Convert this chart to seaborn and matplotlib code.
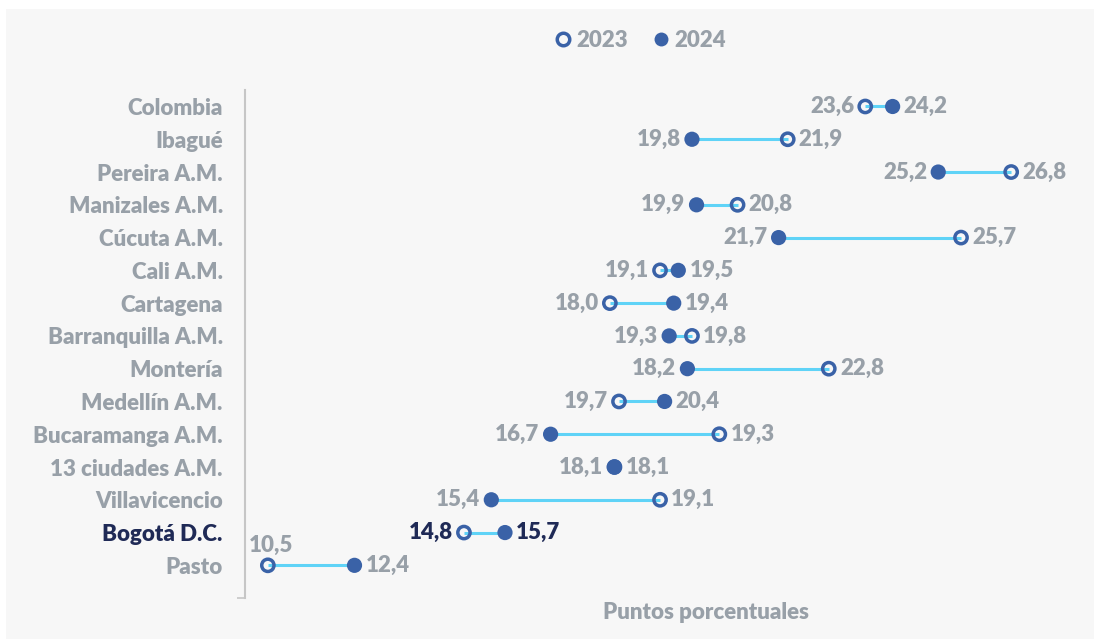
"""Dumbbell chart: 2023 vs 2024 by city"""

import numpy as np
import pandas as pd
import matplotlib
matplotlib.use('Agg')
import matplotlib.pyplot as plt
import seaborn as sns

cities = ['Colombia', 'Ibagué', 'Pereira A.M.', 'Manizales A.M.', 'Cúcuta A.M.',
          'Cali A.M.', 'Cartagena', 'Barranquilla A.M.', 'Montería', 'Medellín A.M.',
          'Bucaramanga A.M.', '13 ciudades A.M.', 'Villavicencio', 'Bogotá D.C.', 'Pasto']
# where the marks sit in the picture
val_2023 = [23.6, 21.9, 26.8, 20.8, 25.7, 19.1, 18.0, 19.8, 22.8, 18.2, 20.4, 18.1, 19.1, 14.8, 10.5]
val_2024 = [24.2, 19.8, 25.2, 19.9, 21.7, 19.5, 19.4, 19.3, 19.7, 19.2, 16.7, 18.1, 15.4, 15.7, 12.4]
# the numbers printed next to the marks
lab_2023 = [23.6, 21.9, 26.8, 20.8, 25.7, 19.1, 18.0, 19.8, 22.8, 19.7, 19.3, 18.1, 19.1, 14.8, 10.5]
lab_2024 = [24.2, 19.8, 25.2, 19.9, 21.7, 19.5, 19.4, 19.3, 18.2, 20.4, 16.7, 18.1, 15.4, 15.7, 12.4]
highlight = 'Bogotá D.C.'

BG = '#f7f7f7'
BLUE = '#3a62a7'
CYAN = '#5fd3f7'
GREY = '#98a0a8'
NAVY = '#1f2a56'
FW = 'heavy'

sns.set_theme(style='white')
plt.rcParams['font.family'] = ['Lato', 'DejaVu Sans']

df = pd.DataFrame({'city': cities, 'y2023': val_2023, 'y2024': val_2024,
                   'l2023': lab_2023, 'l2024': lab_2024})
df['pos'] = np.arange(len(df))

fig = plt.figure(figsize=(10.94, 6.39), dpi=100, facecolor='white')
fig.patches.append(plt.Rectangle((6 / 1094, 0), 1, 1 - 9 / 639, transform=fig.transFigure,
                                 facecolor=BG, edgecolor='none', zorder=-10))
ax = fig.add_axes([0.224, 0.064, 0.767, 0.795])
ax.set_facecolor('none')

# connecting lines
ax.hlines(df['pos'], df['y2023'], df['y2024'], color=CYAN, linewidth=2.2, zorder=1)

sns.scatterplot(data=df, x='y2024', y='pos', ax=ax, color=BLUE, s=120,
                edgecolor='none', zorder=3, legend=False)
sns.scatterplot(data=df, x='y2023', y='pos', ax=ax, facecolor='none', s=78,
                edgecolor=BLUE, linewidth=2.5, zorder=3, legend=False)

fmt = lambda v: f'{v:.1f}'.replace('.', ',')
for _, r in df.iterrows():
    c = NAVY if r['city'] == highlight else GREY
    if r['y2023'] <= r['y2024']:
        lo, hi, tlo, thi = r['y2023'], r['y2024'], r['l2023'], r['l2024']
    else:
        lo, hi, tlo, thi = r['y2024'], r['y2023'], r['l2024'], r['l2023']
    if r['city'] == 'Pasto':
        ax.annotate(fmt(tlo), (lo, r['pos']), xytext=(2, 7), textcoords='offset points',
                    ha='center', va='bottom', color=c, fontsize=16, fontweight=FW)
    else:
        ax.annotate(fmt(tlo), (lo, r['pos']), xytext=(-8, 0), textcoords='offset points',
                    ha='right', va='center', color=c, fontsize=16, fontweight=FW)
    ax.annotate(fmt(thi), (hi, r['pos']), xytext=(8, 0), textcoords='offset points',
                ha='left', va='center', color=c, fontsize=16, fontweight=FW)

ax.set_xlim(10, 28.4)
ax.set_ylim(15, -0.5)
ax.set_yticks(df['pos'])
ax.set_yticklabels(df['city'])
ax.set_yticks(np.arange(1, 16, 2), minor=True)
ax.tick_params(axis='y', which='major', length=0, pad=16, labelsize=16, labelcolor=GREY)
ax.tick_params(axis='y', which='minor', length=6, width=1.2, color='#c6c6c6', left=True)
for lab in ax.get_yticklabels():
    lab.set_fontweight(FW)
    if lab.get_text() == highlight:
        lab.set_color(NAVY)

ax.set_xticks([])
for s in ['top', 'right', 'bottom']:
    ax.spines[s].set_visible(False)
ax.spines['left'].set_color('#c6c6c6')
ax.spines['left'].set_linewidth(1.5)
ax.set_xlabel('')
ax.set_ylabel('')

fig.text(0.645, 0.041, 'Puntos porcentuales', ha='center', va='center',
         color=GREY, fontsize=16, fontweight=FW)

h23 = plt.Line2D([], [], marker='o', linestyle='none', markerfacecolor='none',
                 markeredgecolor=BLUE, markeredgewidth=2.5, markersize=9)
h24 = plt.Line2D([], [], marker='o', linestyle='none', markerfacecolor=BLUE,
                 markeredgecolor='none', markersize=10)
leg = fig.legend([h23, h24], ['2023', '2024'], loc='center', bbox_to_anchor=(0.584, 0.937),
                 ncol=2, frameon=False, handletextpad=0.1, columnspacing=1.0,
                 handlelength=1.0, prop={'size': 16, 'weight': FW})
for t in leg.get_texts():
    t.set_color(GREY)

fig.savefig('out.png', dpi=100, facecolor='white')
